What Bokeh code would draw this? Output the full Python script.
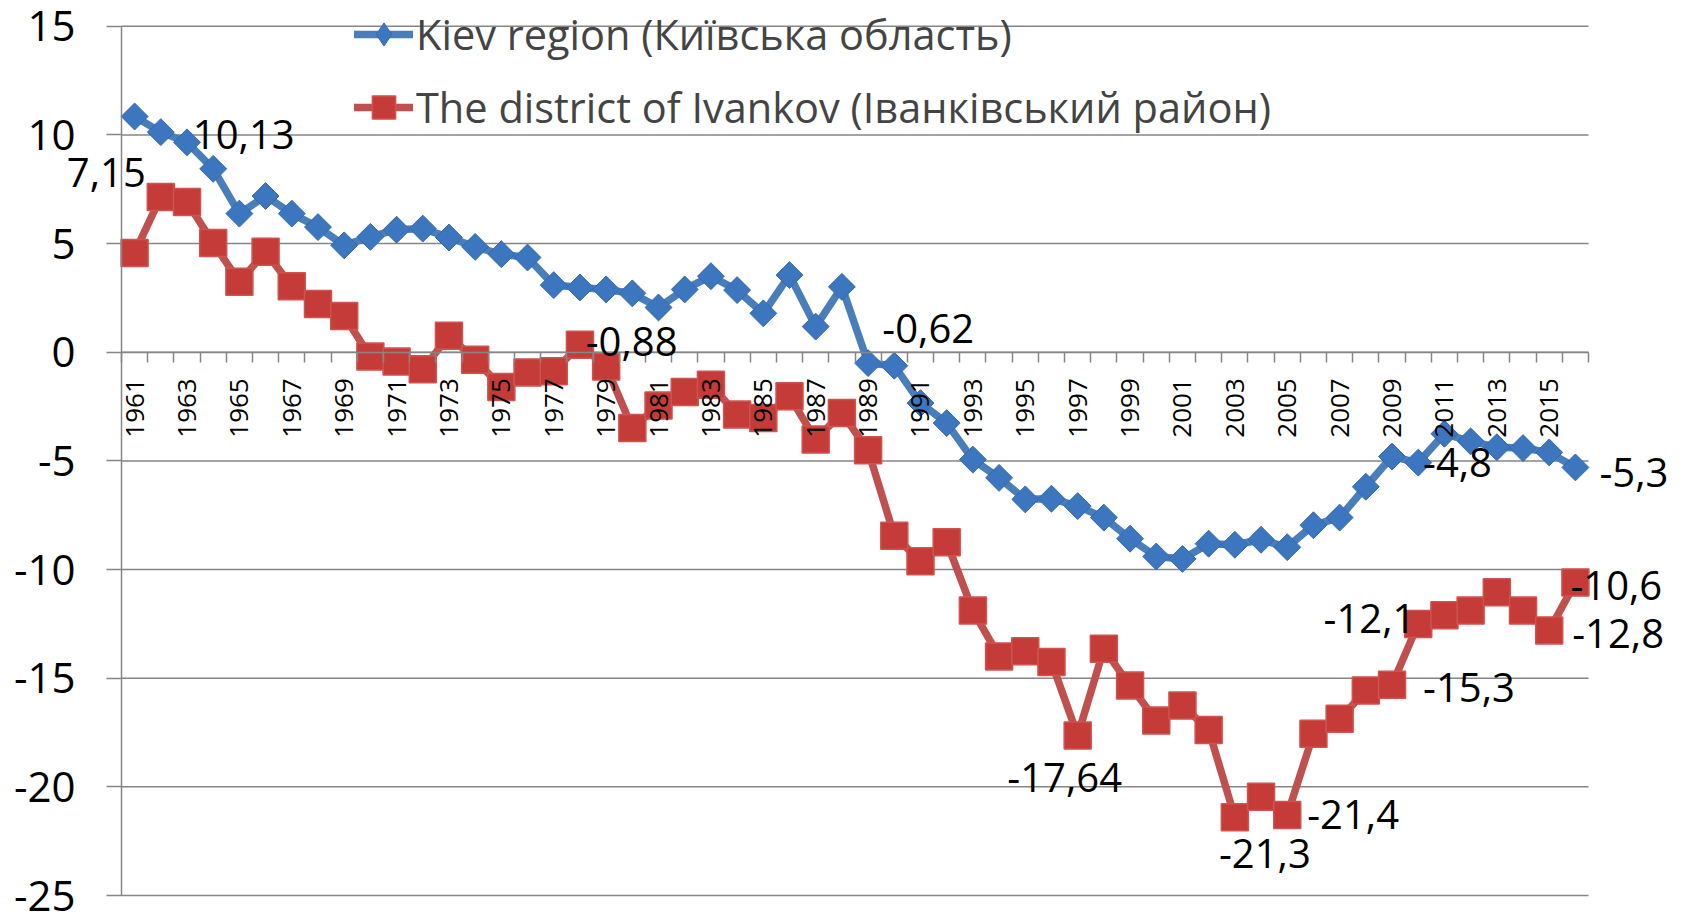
import math
from bokeh.plotting import figure
from bokeh.models import (ColumnDataSource, FixedTicker, Range1d, Legend, LegendItem, Label,
                          LinearAxis)
from bokeh.embed import file_html
from bokeh.resources import INLINE

# ---------------- data ----------------
years = list(range(1961, 2017))

kiev = [10.85, 10.13, 9.66, 8.44, 6.38, 7.19, 6.38, 5.76, 4.92, 5.31,
        5.64, 5.69, 5.28, 4.85, 4.51, 4.36, 3.09, 2.98, 2.89, 2.71,
        2.06, 2.89, 3.50, 2.86, 1.79, 3.55, 1.18, 3.01, -0.50, -0.62,
        -2.34, -3.26, -4.94, -5.78, -6.77, -6.74, -7.08, -7.61, -8.58, -9.40,
        -9.51, -8.81, -8.86, -8.63, -8.97, -7.96, -7.61, -6.19, -4.80, -5.08,
        -3.75, -4.10, -4.37, -4.41, -4.61, -5.30]

ivankov = [4.57, 7.15, 6.91, 5.03, 3.24, 4.62, 3.04, 2.22, 1.67, -0.20,
           -0.43, -0.78, 0.76, -0.35, -1.60, -0.93, -0.88, 0.34, -0.66, -3.49,
           -2.45, -1.83, -1.50, -2.87, -3.03, -2.03, -4.02, -2.80, -4.51, -8.44,
           -9.62, -8.74, -11.89, -14.00, -13.76, -14.26, -17.64, -13.65, -15.34, -16.95,
           -16.26, -17.38, -21.40, -20.45, -21.30, -17.56, -16.87, -15.57, -15.30, -12.50,
           -12.10, -11.89, -11.04, -11.89, -12.80, -10.60]

series_names = ["Kiev region (Київська область)",
                "The district of Ivankov (Іванківський район)"]

y_ticks = [-25, -20, -15, -10, -5, 0, 5, 10, 15]
year_tick_labels = [str(y) for y in years if (y - years[0]) % 2 == 0]

label_series = ["ivankov", "kiev", "ivankov", "kiev", "kiev", "kiev", "ivankov",
                "ivankov", "ivankov", "ivankov", "ivankov", "ivankov", "ivankov"]
label_years = [1962, 1962, 1977, 1990, 2009, 2016, 2016, 2015, 2011, 2009, 1997, 2003, 2005]
label_texts = ["7,15", "10,13", "-0,88", "-0,62", "-4,8", "-5,3", "-10,6",
               "-12,8", "-12,1", "-15,3", "-17,64", "-21,3", "-21,4"]

# ---------------- layout / styling ----------------
W, H = 1675, 912
PLOT_L, PLOT_R, PLOT_T, PLOT_B = 121, 1588, 25.8, 895

label_dx = [-15, 32, 32, -12, 31, 24, -5, 23, -29, 31, -13, 30, 20]
label_dy = [-24, 2, -30, -37, 6, 5, 3, 3, 3, 3, 42, 36, -1]   # screen px, down positive
label_align = ["right", "left", "left", "left", "left", "left", "left",
               "left", "right", "left", "center", "center", "left"]

FONT = "Open Sans"
GRID = "#868686"
BLUE_LINE = "#4A7EBB"
BLUE_FILL = "#3C76BE"
RED_LINE = "#C0504D"
RED_FILL = "#C43B38"

x0, x1 = years[0] - 0.5, years[-1] + 0.5
y0, y1 = y_ticks[0], y_ticks[-1]
ppx = (PLOT_R - PLOT_L) / (x1 - x0)
ppy = (PLOT_B - PLOT_T) / (y1 - y0)

p = figure(width=W, height=H, output_backend="svg", toolbar_location=None,
           x_range=Range1d(x0 - PLOT_L / ppx, x1 + (W - PLOT_R) / ppx),
           y_range=Range1d(y0 - (H - PLOT_B) / ppy, y1 + PLOT_T / ppy),
           min_border=0, min_border_left=0, min_border_right=0,
           min_border_top=0, min_border_bottom=0,
           x_axis_location=None, y_axis_location=None)
p.outline_line_color = None
p.background_fill_color = "white"
p.border_fill_color = "white"
for g in list(p.grid):
    g.visible = False

# horizontal grid lines across the plot area only
p.segment(x0=[x0] * len(y_ticks), y0=y_ticks, x1=[x1] * len(y_ticks), y1=y_ticks,
          line_color=GRID, line_width=1.5, level="underlay")

# y axis at the left edge of the plot area
yaxis = LinearAxis(fixed_location=x0, bounds=(y0, y1),
                   ticker=FixedTicker(ticks=y_ticks),
                   major_label_overrides={t: str(t) for t in y_ticks},
                   axis_line_color=GRID, axis_line_width=1.5,
                   major_tick_line_color=GRID, major_tick_line_width=1.5,
                   major_tick_out=15, major_tick_in=0,
                   minor_tick_line_color=None,
                   major_label_standoff=31,
                   major_label_text_font=FONT, major_label_text_font_size="42px",
                   major_label_text_color="black")
p.add_layout(yaxis, "left")

# x axis crossing at 0
label_pos = [y for y in years if str(y) in year_tick_labels]
boundaries = [y - 0.5 for y in years] + [years[-1] + 0.5]
xaxis = LinearAxis(fixed_location=0, bounds=(x0, x1),
                   ticker=FixedTicker(ticks=label_pos, minor_ticks=boundaries),
                   major_label_overrides={y: str(y) for y in label_pos},
                   major_label_orientation=math.pi / 2,
                   major_label_standoff=16,
                   major_label_text_font=FONT,
                   major_label_text_font_size="26px",
                   major_label_text_color="black",
                   axis_line_color=GRID, axis_line_width=1.5,
                   major_tick_out=0, major_tick_in=0,
                   minor_tick_out=10, minor_tick_in=0,
                   minor_tick_line_color=GRID, minor_tick_line_width=1.5)
p.add_layout(xaxis, "below")

src = ColumnDataSource(dict(year=years, kiev=kiev, ivankov=ivankov))

r_kl = p.line("year", "kiev", source=src, line_color=BLUE_LINE, line_width=7.5,
              line_join="round", line_cap="round")
r_ks = p.scatter("year", "kiev", source=src, marker="square", size=19, angle=math.pi / 4,
                 fill_color=BLUE_FILL, line_color="#3568AC", line_width=1)
r_il = p.line("year", "ivankov", source=src, line_color=RED_LINE, line_width=7.5,
              line_join="round", line_cap="round")
r_is = p.scatter("year", "ivankov", source=src, marker="square", size=27,
                 fill_color=RED_FILL, line_color="#D0534F", line_width=1.5)

# legend-only diamond swatch: a single undefined (NaN) point, so nothing shows in the plot
swatch = ColumnDataSource(dict(year=[years[0]], kiev=[float("nan")]))
r_kleg = p.scatter("year", "kiev", source=swatch, marker="diamond", size=19,
                   fill_color=BLUE_FILL, line_color="#3568AC", line_width=1)

series_lookup = {"kiev": kiev, "ivankov": ivankov}
for s, yr, txt, dx, dy, al in zip(label_series, label_years, label_texts,
                                  label_dx, label_dy, label_align):
    v = series_lookup[s][years.index(yr)]
    p.add_layout(Label(x=yr, y=v, text=txt, x_offset=dx, y_offset=-dy,
                       text_align=al, text_baseline="middle",
                       text_font=FONT, text_font_size="40px", text_color="black"))

legend = Legend(items=[LegendItem(label=series_names[0], renderers=[r_kl, r_kleg]),
                       LegendItem(label=series_names[1], renderers=[r_il, r_is])],
                location=(354, 776), orientation="vertical",
                glyph_width=59, glyph_height=58, label_height=58, spacing=15,
                padding=0, margin=0, label_standoff=3,
                label_text_font=FONT, label_text_font_size="41.5px",
                background_fill_alpha=0, border_line_alpha=0)
p.add_layout(legend)

open("out.html", "w").write(file_html(p, INLINE))
